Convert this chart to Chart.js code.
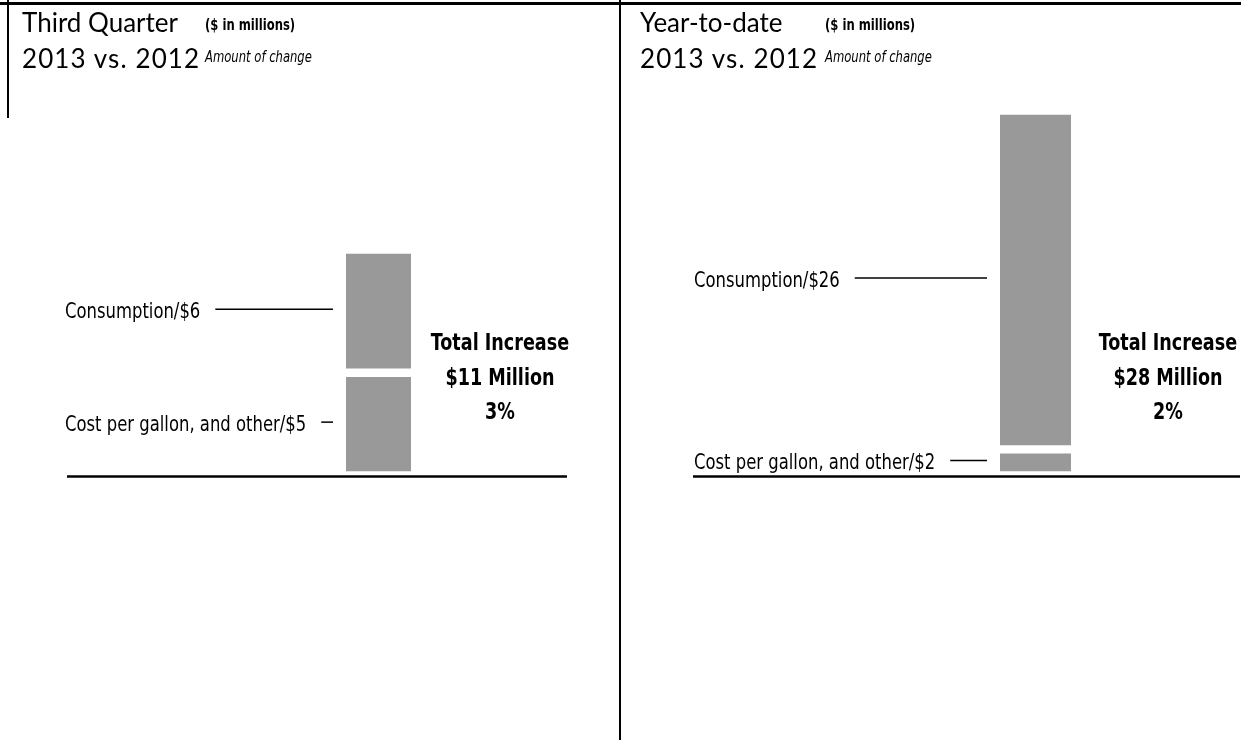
<!DOCTYPE html>
<html>
<head>
<meta charset="utf-8">
<script src="https://cdn.jsdelivr.net/npm/chart.js@4.4.0/dist/chart.umd.min.js"></script>
<style>
  body { margin: 0; background: #fff; }
  #page { position: relative; width: 1241px; height: 740px; overflow: hidden; background: #fff; }
  .rule { position: absolute; background: #000; }
  .panel { position: absolute; top: 0; width: 620px; height: 740px; }
  .title { position: absolute; font-family: Lato, 'Open Sans', sans-serif; font-weight: 400; font-size: 26px; line-height: 1; color: #000; white-space: nowrap; }
  .title.second { letter-spacing: 1.1px; }
  .note { position: absolute; font-family: 'DejaVu Sans Condensed', sans-serif; font-size: 15px; line-height: 1; color: #000; white-space: nowrap; transform: scaleX(0.86); transform-origin: left top; }
</style>
</head>
<body>
<div id="page">
  <div class="rule" style="left:0; top:2px; width:1241px; height:3px;"></div>
  <div class="rule" style="left:7px; top:0; width:2px; height:118px;"></div>
  <div class="rule" style="left:619px; top:0; width:2px; height:740px;"></div>

  <div class="panel" style="left:0;"><canvas id="chart0"></canvas></div>
  <div class="panel" style="left:620px;"><canvas id="chart1"></canvas></div>

  <div class="title" id="t0a" style="left:22px; top:9px;"></div>
  <div class="title second" id="t0b" style="left:22px; top:45px;"></div>
  <div class="note" style="left:205px; top:18px; font-weight:bold;">($ in millions)</div>
  <div class="note" style="left:205px; top:50px; font-style:italic;">Amount of change</div>

  <div class="title" id="t1a" style="left:640px; top:9px;"></div>
  <div class="title second" id="t1b" style="left:640px; top:45px;"></div>
  <div class="note" style="left:825px; top:18px; font-weight:bold;">($ in millions)</div>
  <div class="note" style="left:825px; top:50px; font-style:italic;">Amount of change</div>
</div>
<script>
// chart data
var panelTitles = ['Third Quarter', 'Year-to-date'];
var comparisonLabel = '2013 vs. 2012';
var seriesNames = ['Cost per gallon, and other', 'Consumption'];
var costValues = [5, 2];
var consumptionValues = [6, 26];
var totalValues = [11, 28];
var percentValues = [3, 2];

var labelFont = "21px 'DejaVu Sans Condensed', sans-serif";
var totalFont = "bold 23px 'DejaVu Sans Condensed', sans-serif";

// per panel placement (pixels inside each 620px canvas)
var panelLayout = [
    { padLeft: 190, padRight: 53, padTop: 249.5, yMax: 11, barWidth: 65, axisFrom: 67, axisTo: 567, textX: 65, totalX: 500 },
    { padLeft: 211, padRight: 0, padTop: 110.5, yMax: 28, barWidth: 71, axisFrom: 73, axisTo: 620, textX: 74, totalX: 548 }
];

// draws text squeezed horizontally, like a condensed face
function narrowText(ctx, text, x, y, squeeze, align) {
    var w = ctx.measureText(text).width * squeeze;
    var left = align === 'center' ? x - w / 2 : x;
    ctx.save();
    ctx.translate(left, y);
    ctx.scale(squeeze, 1);
    ctx.textAlign = 'left';
    ctx.fillText(text, 0, 0);
    ctx.restore();
    return w;
}

var leaderLabels = {
    id: 'leaderLabels',
    afterDatasetsDraw: function (chart, args, opts) {
        var ctx = chart.ctx;
        var zero = chart.scales.y.getPixelForValue(0);
        ctx.save();
        ctx.strokeStyle = '#000';
        ctx.fillStyle = '#000';

        // base line
        ctx.lineWidth = 2.5;
        ctx.beginPath();
        ctx.moveTo(opts.axisFrom, zero + 1);
        ctx.lineTo(opts.axisTo, zero + 1);
        ctx.stroke();

        // series labels with leader lines
        ctx.font = labelFont;
        ctx.textBaseline = 'alphabetic';
        ctx.lineWidth = 1.5;
        chart.data.datasets.forEach(function (ds, d) {
            var bar = chart.getDatasetMeta(d).data[0];
            var mid = (bar.y + bar.base) / 2;
            var text = ds.label + '/$' + ds.data[0];
            var w = narrowText(ctx, text, opts.textX, mid + 7, 0.87, 'left');
            ctx.beginPath();
            ctx.moveTo(opts.textX + w + 15, mid - 2);
            ctx.lineTo(bar.x - bar.width / 2 - 13, mid - 2);
            ctx.stroke();
        });

        // total block
        ctx.font = totalFont;
        var lines = ['Total Increase', '$' + opts.total + ' Million', opts.pct + '%'];
        [125.5, 90.5, 57].forEach(function (off, k) {
            narrowText(ctx, lines[k], opts.totalX, zero - off, 0.85, 'center');
        });
        ctx.restore();
    }
};

panelTitles.forEach(function (title, i) {
    document.getElementById('t' + i + 'a').textContent = title;
    document.getElementById('t' + i + 'b').textContent = comparisonLabel;

    var L = panelLayout[i];
    var ctx = document.getElementById('chart' + i).getContext('2d');
    var barStyle = {
        backgroundColor: '#999999',
        borderColor: '#ffffff',
        borderWidth: { top: 4.5, bottom: 4.5, left: 0, right: 0 },
        borderSkipped: false,
        barThickness: L.barWidth
    };

    new Chart(ctx, {
        type: 'bar',
        data: {
            labels: [title],
            datasets: [
                Object.assign({ label: seriesNames[0], data: [costValues[i]] }, barStyle),
                Object.assign({ label: seriesNames[1], data: [consumptionValues[i]] }, barStyle)
            ]
        },
        options: {
            responsive: true,
            maintainAspectRatio: false,
            animation: false,
            layout: { padding: { left: L.padLeft, right: L.padRight, top: L.padTop, bottom: 264.5 } },
            scales: {
                x: { display: false, stacked: true },
                y: { display: false, stacked: true, min: 0, max: L.yMax }
            },
            plugins: {
                legend: { display: false },
                tooltip: { enabled: false },
                leaderLabels: {
                    axisFrom: L.axisFrom, axisTo: L.axisTo, textX: L.textX, totalX: L.totalX,
                    total: totalValues[i], pct: percentValues[i]
                }
            }
        },
        plugins: [leaderLabels]
    });
});
</script>
</body>
</html>
